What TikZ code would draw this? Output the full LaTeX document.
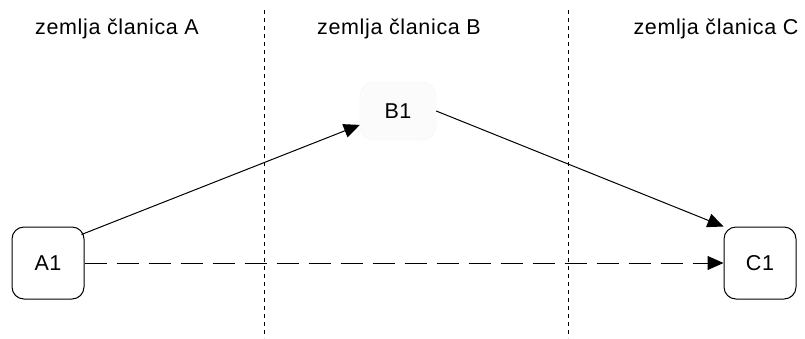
\documentclass[tikz,border=0pt]{standalone}
\usepackage{fontspec}
\setmainfont{Liberation Sans}[LetterSpace=3]
\usetikzlibrary{arrows.meta,positioning}
\definecolor{faint}{HTML}{FBFBFB}
\definecolor{faintline}{HTML}{F5F5F5}
\tikzset{
  header/.style={font=\fontsize{21.5}{25}\selectfont,text=black},
  state/.style={rounded corners=12pt,draw=black,line width=1pt,fill=white,minimum width=72pt,minimum height=72pt,font=\fontsize{21.5}{25}\selectfont},
  ghost/.style={rounded corners=14pt,draw=faintline,fill=faint,minimum width=76pt,minimum height=58pt,font=\fontsize{21.5}{25}\selectfont},
  border/.style={draw=black,line width=1pt,dash pattern=on 4pt off 4pt},
  arr/.style={-{Triangle[length=16pt,width=14pt]},draw=black,line width=1pt},
  arrdash/.style={-{Triangle[length=16pt,width=14pt]},draw=black,line width=1pt,dash pattern=on 22pt off 10pt}
}
\begin{document}
\begin{tikzpicture}[x=1pt,y=-1pt]
\path[use as bounding box,fill=white] (0,0) rectangle (805,338);
% borders between member states
\draw[border] (264,10)--(264,338);
\draw[border] (568,10)--(568,338);
\node[header] (hA) at (117,29) {zemlja članica A};
\node[header] (hB) at (399,29) {zemlja članica B};
\node[header,anchor=west] (hC) at (630,29) {zemlja članica C};
% states
\node[state] (A1) at (48,263) {A1};
\node[ghost] (B1) at (398,111) {B1};
\node[state] (C1) at (760,263) {C1};
\draw[arr] (A1.north east)++(-3,8) coordinate (a1out) (a1out)--(B1.200);
\draw[arr] (B1.east)--(C1.north west);
\draw[arrdash] (A1.east)--(C1.west);
\end{tikzpicture}
\end{document}
